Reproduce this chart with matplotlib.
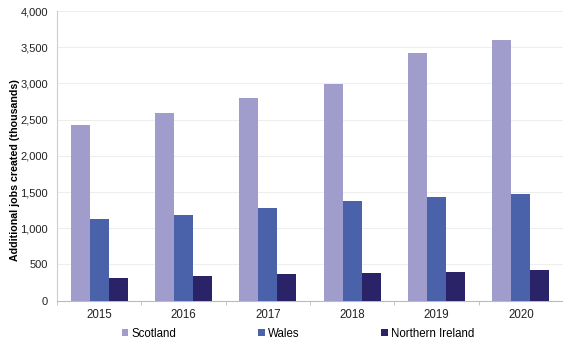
import numpy as np
import matplotlib.pyplot as plt

years = ['2015', '2016', '2017', '2018', '2019', '2020']
scotland = [2420, 2592, 2794, 2993, 3416, 3596]
wales = [1125, 1190, 1282, 1375, 1426, 1477]
northern_ireland = [318, 336, 364, 387, 401, 424]

series = [('Scotland', scotland, '#A09DCD'),
          ('Wales', wales, '#4A62AA'),
          ('Northern Ireland', northern_ireland, '#2A2368')]

plt.rcParams['font.family'] = ['Liberation Sans', 'DejaVu Sans']
plt.rcParams['font.size'] = 8.3

fig = plt.figure(figsize=(5.63, 3.40), dpi=100)
ax = fig.add_axes([0.101, 0.1156, 0.899, 0.852])

x = np.arange(len(years))
w = 0.225
for i, (name, vals, col) in enumerate(series):
    ax.bar(x + (i - 1) * w, vals, width=w, color=col, label=name, zorder=3)

ax.set_xlim(-0.5, len(years) - 0.5)
ax.set_ylim(0, 4000)
ax.set_yticks(range(0, 4001, 500))
ax.set_yticklabels([f'{v:,}' for v in range(0, 4001, 500)], color='#222222', fontsize=8.0)
ax.set_xticks(x)
ax.set_xticklabels(years, color='#222222')
ax.set_xticks(np.arange(-0.5, len(years)), minor=True)
ax.tick_params(axis='x', which='major', length=0, pad=6)
ax.tick_params(axis='x', which='minor', length=3, color='#BBBBBB')
ax.tick_params(axis='y', length=0, pad=6.5)

ax.grid(axis='y', color='#EEEEEE', linewidth=0.8, zorder=0)
for s in ['top', 'right']:
    ax.spines[s].set_visible(False)
ax.spines['left'].set_color('#CCCCCC')
ax.spines['bottom'].set_color('#BBBBBB')

ax.set_ylabel('Additional jobs created (thousands)', fontweight='bold', fontsize=7.7)
ax.yaxis.set_label_coords(-0.073, 0.451)

fig.legend(loc='lower center', bbox_to_anchor=(298 / 563, -0.03), ncol=3,
           frameon=False, handlelength=0.6, handleheight=0.6, handletextpad=0.25,
           columnspacing=7.1, fontsize=8.3)

plt.savefig('out.png', dpi=100)
